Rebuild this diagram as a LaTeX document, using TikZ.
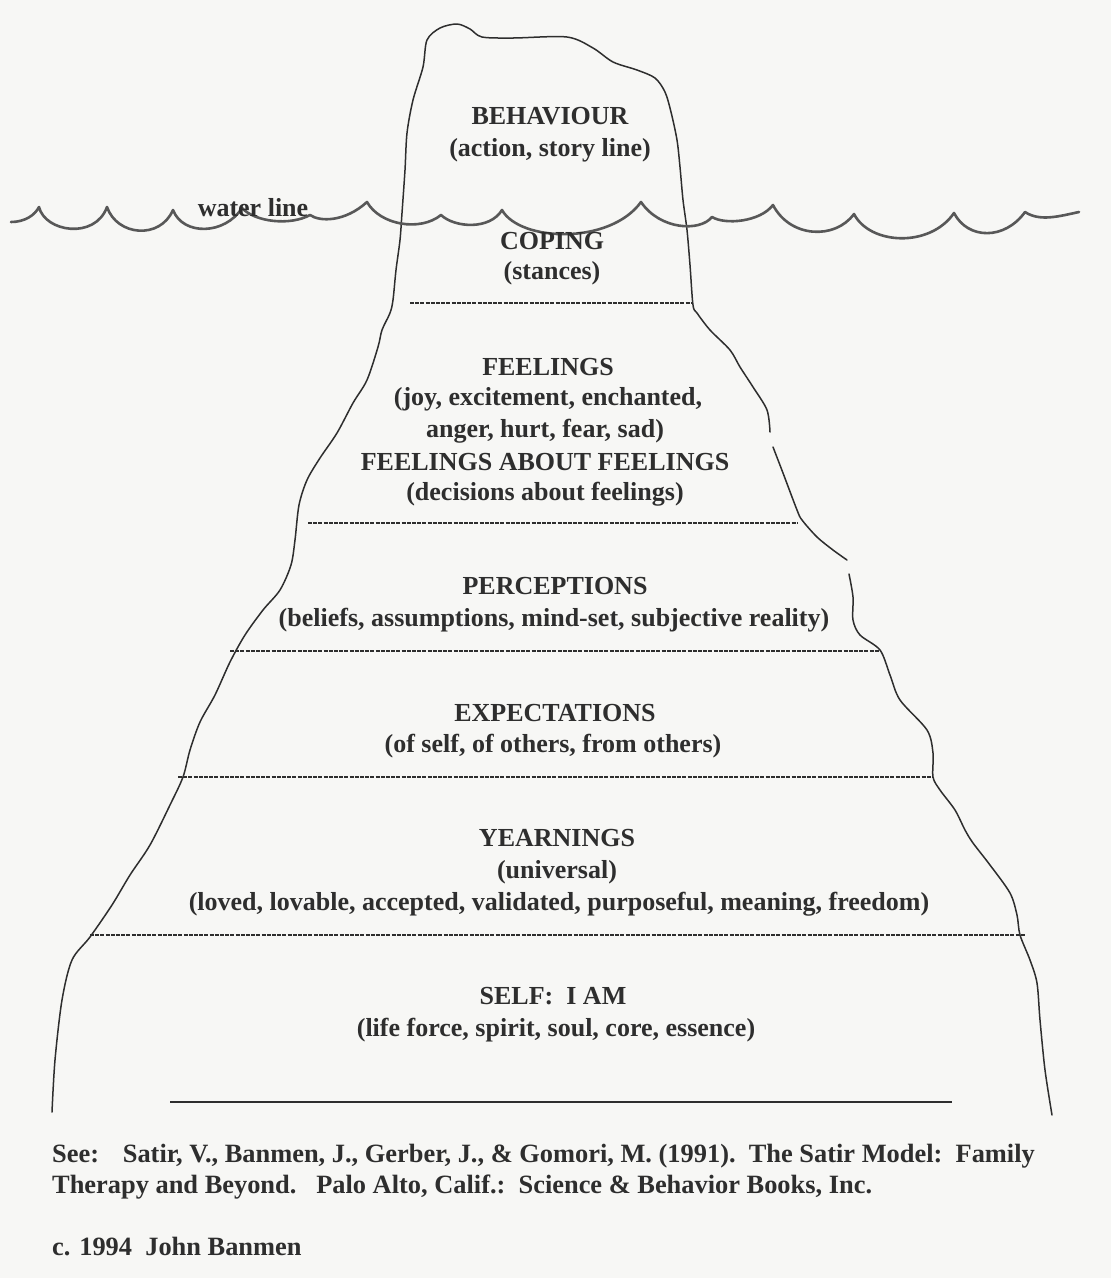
\documentclass[tikz,border=0pt]{standalone}
\usepackage{fontspec}
\setmainfont{Liberation Serif}
\definecolor{ink}{HTML}{2E2E2E}
\definecolor{paper}{HTML}{F7F7F5}
\begin{document}
\begin{tikzpicture}[x=1pt,y=-1pt,
  lbl/.style={font=\fontsize{26}{31}\selectfont\bfseries, text=ink, inner sep=0pt, anchor=base},
  foot/.style={font=\fontsize{26.4}{31}\selectfont\bfseries, text=ink, inner sep=0pt, anchor=base west},
  edge/.style={draw=ink, line width=1.5pt, line cap=round, line join=round},
  wave/.style={draw=ink!80, line width=2.6pt, line cap=round, line join=round},
  layer/.style={draw=ink, line width=2.3pt, dash pattern=on 4pt off 1.2pt},
  base/.style={draw=ink, line width=1.8pt}]
\fill[paper] (0,0) rectangle (1111,1278);
\useasboundingbox (0,0) rectangle (1111,1278);

% iceberg outline
\draw[edge] plot[smooth, tension=0.5] coordinates {
 (52,1112) (55,1060) (62,1000) (72,960) (90,937) (112,905) (130,875) (150,845)
 (170,805) (183,777) (190,750) (200,722) (215,695) (230,662) (245,635) (263,610)
 (280,590) (291,565) (295,540) (299,505) (307,480) (320,458) (337,433) (353,403)
 (367,380) (378,347) (382,330) (390,313) (393,300) (396,270) (400,240) (402,213)
 (405,170) (407,133) (413,100) (423,67) (427,40) (440,28) (457,24) (470,29)
 (482,37) (513,38) (567,37) (593,48) (613,62) (637,70) (655,78) (665,92)
 (671,112) (677,140) (680,167) (683,200) (687,230) (690,265) (693,305) (697,313)
 (710,330) (730,350) (740,367) (753,387) (767,410) (770,432)};
\draw[edge] plot[smooth, tension=0.5] coordinates {
 (773,447) (783,473) (797,510) (802,520) (817,537) (833,550) (847,560)};
\draw[edge] plot[smooth, tension=0.5] coordinates {
 (849,574) (853,597) (853,620) (860,635) (880,650) (890,675) (900,700) (927,730)
 (933,753) (933,777) (940,790) (955,810) (965,830) (973,843) (990,865) (1010,893)
 (1017,915) (1020,935) (1030,960) (1037,983) (1040,1020) (1045,1070) (1052,1115)};

% water line
\draw[wave] (11,222) .. controls (25,222) and (35,215) .. (39,207)
 .. controls (45,232) and (95,240) .. (107,207)
 .. controls (117,236) and (160,240) .. (173,210)
 .. controls (183,236) and (225,235) .. (242,208)
 .. controls (255,222) and (290,226) .. (310,215)
 .. controls (320,222) and (345,222) .. (367,202)
 .. controls (380,225) and (420,232) .. (441,215)
 .. controls (455,228) and (490,230) .. (502,210)
 .. controls (520,242) and (610,245) .. (641,202)
 .. controls (660,230) and (700,232) .. (712,217)
 .. controls (725,225) and (760,222) .. (773,205)
 .. controls (790,238) and (835,240) .. (854,214)
 .. controls (870,245) and (930,248) .. (954,213)
 .. controls (968,240) and (1005,240) .. (1025,212)
 .. controls (1040,222) and (1060,216) .. (1079,212);

% layer boundaries
\coordinate (c1) at (410,303); \coordinate (c2) at (692,303);
\coordinate (f1) at (308,523); \coordinate (f2) at (798,523);
\coordinate (p1) at (230,651); \coordinate (p2) at (880,651);
\coordinate (e1) at (178,777); \coordinate (e2) at (933,777);
\coordinate (y1) at (90,935);  \coordinate (y2) at (1025,935);
\coordinate (s1) at (170,1102); \coordinate (s2) at (952,1102);
\draw[layer] (c1) -- (c2);
\draw[layer] (f1) -- (f2);
\draw[layer] (p1) -- (p2);
\draw[layer] (e1) -- (e2);
\draw[layer] (y1) -- (y2);
\draw[base] (s1) -- (s2);

% labels
\node[lbl] (beh) at (550,124) {BEHAVIOUR};
\node[lbl] (behs) at (550,156) {(action, story line)};
\node[lbl] (wl) at (253,216) {water line};
\node[lbl] (cop) at (552,249) {COPING};
\node[lbl] (cops) at (552,279) {(stances)};
\node[lbl] (fee) at (548,375) {FEELINGS};
\node[lbl] (fee1) at (548,405) {(joy, excitement, enchanted,};
\node[lbl] (fee2) at (545,437) {anger, hurt, fear, sad)};
\node[lbl] (faf) at (545,470) {FEELINGS ABOUT FEELINGS};
\node[lbl] (fafs) at (545,500) {(decisions about feelings)};
\node[lbl] (per) at (555,594) {PERCEPTIONS};
\node[lbl] (pers) at (554,626) {(beliefs, assumptions, mind-set, subjective reality)};
\node[lbl] (exp) at (555,721) {EXPECTATIONS};
\node[lbl] (exps) at (553,752) {(of self, of others, from others)};
\node[lbl] (yea) at (557,846) {YEARNINGS};
\node[lbl] (yea1) at (557,878) {(universal)};
\node[lbl] (yea2) at (559,910) {(loved, lovable, accepted, validated, purposeful, meaning, freedom)};
\node[lbl] (self) at (553,1004) {SELF:\ \ I AM};
\node[lbl] (selfs) at (556,1036) {(life force, spirit, soul, core, essence)};

% footer
\node[foot] (ref1) at (52,1162) {See:\hspace{0.9em}Satir, V., Banmen, J., Gerber, J., \& Gomori, M. (1991).\ \ The Satir Model:\ \ Family};
\node[foot] (ref2) at (52,1193) {Therapy and Beyond.\ \ \ Palo Alto, Calif.:\ \ Science \& Behavior Books, Inc.};
\node[foot] (copy) at (52,1255) {c. 1994\ \ John Banmen};
\end{tikzpicture}
\end{document}
